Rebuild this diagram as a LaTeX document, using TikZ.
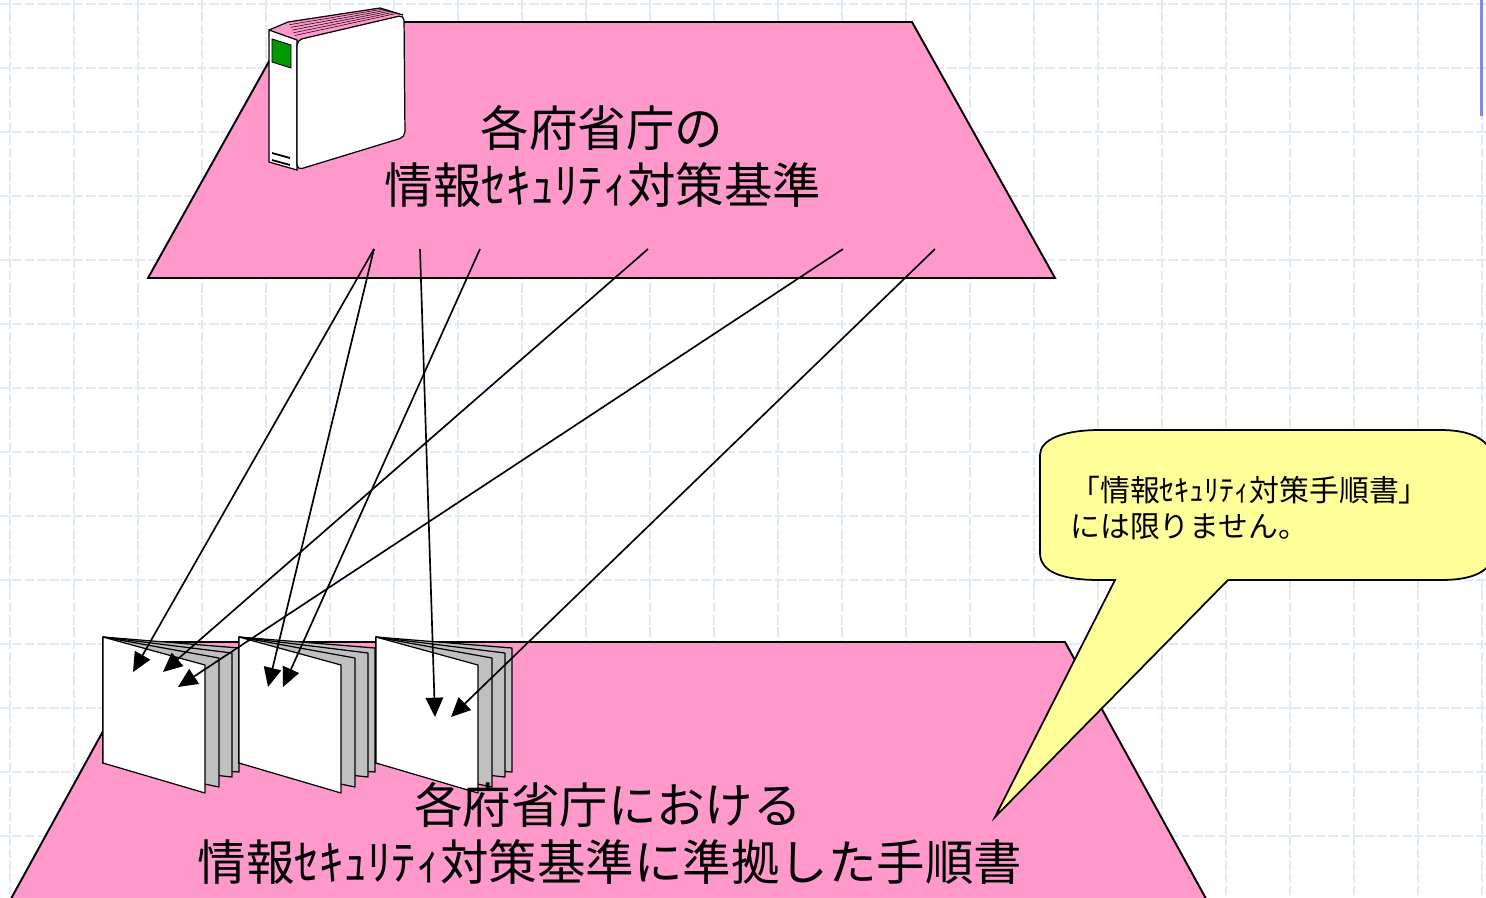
\documentclass[tikz,border=0pt]{standalone}
\usepackage{fontspec}
\setmainfont{Noto Sans CJK JP}
\usetikzlibrary{arrows.meta,calc,positioning}

\definecolor{gridblue}{RGB}{226,233,255}
\definecolor{barblue}{RGB}{120,140,240}
\definecolor{planepink}{RGB}{255,153,204}
\definecolor{notecolor}{RGB}{255,255,153}
\definecolor{pagegray}{RGB}{192,192,192}
\definecolor{labelgreen}{RGB}{0,153,0}

\tikzset{
  gridline/.style={gridblue, line width=0.9pt, dash pattern=on 5.5pt off 1.5pt},
  plane/.style={draw, fill=planepink, line width=1.1pt},
  sheet/.style={draw, fill=#1, line width=0.7pt, line join=round},
  link/.style={arrows={-Triangle[length=11pt,width=10pt]}, line width=0.95pt},
  bigtext/.style={font=\fontsize{27.6}{32}\selectfont},
  notetext/.style={font=\fontsize{17}{21}\selectfont, align=left, inner sep=0pt},
}

\begin{document}
\begin{tikzpicture}[x=0.02cm, y=-0.02cm]
\useasboundingbox (0,0) rectangle (1486,897);
\clip (0,0) rectangle (1486,897);

% background grid
\foreach \gx in {10,74,...,1486}
  \draw[gridline] (\gx,0) -- (\gx,897);
\foreach \gy in {4,68,...,897}
  \draw[gridline] (0,\gy) -- (1486,\gy);
\fill[barblue] (1480,0) rectangle (1483,116);

% the two planes
\draw[plane] (291,22) -- (912,22) -- (1055,278) -- (148,278) -- cycle;
\draw[plane] (152,642) -- (1065,642) -- (1210,906) -- (7,906) -- cycle;

% binder
\fill[planepink] (269,30) -- (288,22) -- (380,8) -- (403,15) -- (297,40) -- cycle;
\foreach \t in {0.15,0.3,...,0.9}
  \draw[line width=0.3pt] ($(288,22)!\t!(297,40)$) -- ($(380,8)!\t!(403,15)$);
\draw[line width=0.7pt] (269,30) -- (288,22) -- (380,8) -- (403,15);
\draw[fill=white, line width=0.7pt] (269,30) -- (297,40) -- (297,170) -- (269,162) -- cycle;
\draw[fill=white, line width=0.7pt, rounded corners=3pt] (297,40) -- (404,15) -- (405,137) -- (297,170) -- cycle;
\draw[fill=labelgreen, line width=0.5pt] (272,39) -- (291,45) -- (291,68) -- (272,62) -- cycle;
\draw[line width=1pt] (272,153) -- (290,158);
\draw[line width=1pt] (272,160) -- (290,165);

\node (upplace) [bigtext] at (602,128) {各府省庁の};
\node (upname)  [bigtext] at (603,185) {情報ｾｷｭﾘﾃｨ対策基準};

% booklets
\foreach \bx in {0,136,273} {
  \begin{scope}[shift={(\bx,0)}]
    \draw[sheet=pagegray] (103,637) -- (239,648) -- (239,772) -- (103,763) -- cycle;
    \draw[sheet=pagegray] (103,637) -- (232,653) -- (232,777) -- (103,763) -- cycle;
    \draw[sheet=pagegray] (103,637) -- (219,658) -- (219,787) -- (103,763) -- cycle;
    \draw[sheet=white] (103,637) -- (205,665) -- (205,793) -- (103,763) -- cycle;
  \end{scope}
}

\node (lowplace) [bigtext] at (608,805) {各府省庁における};
\node (lowname)  [bigtext] at (610,862) {情報ｾｷｭﾘﾃｨ対策基準に準拠した手順書};

% arrows from the standard to the procedures
\coordinate (s1) at (374,249);
\coordinate (s2) at (420,249);
\coordinate (s3) at (480,249);
\coordinate (s4) at (648,249);
\coordinate (s5) at (843,249);
\coordinate (s6) at (935,249);
\coordinate (a1) at (133,672);
\coordinate (a2) at (163,672);
\coordinate (a3) at (178,687);
\coordinate (b1) at (268,687);
\coordinate (b2) at (283,687);
\coordinate (c1) at (435,717);
\coordinate (c2) at (451,717);
\draw[link] (s1) -- (a1);
\draw[link] (s4) -- (a2);
\draw[link] (s5) -- (a3);
\draw[link] (s1) -- (b1);
\draw[link] (s3) -- (b2);
\draw[link] (s2) -- (c1);
\draw[link] (s6) -- (c2);

% speech balloon
\coordinate (tip) at (995,817);
\draw[fill=notecolor, line width=1pt, line join=miter]
  (1100,430) -- (1440,430) .. controls (1480,430) and (1495,445) .. (1495,470)
  -- (1495,545) .. controls (1495,568) and (1480,580) .. (1440,580)
  -- (1228,580) -- (tip) -- (1115,580) -- (1100,580)
  .. controls (1062,580) and (1040,572) .. (1040,553)
  -- (1040,455) .. controls (1040,440) and (1062,430) .. (1100,430) -- cycle;
\node (note) [notetext, anchor=west] at (1070,508) {「情報ｾｷｭﾘﾃｨ対策手順書」\\には限りません。};
\end{tikzpicture}
\end{document}
